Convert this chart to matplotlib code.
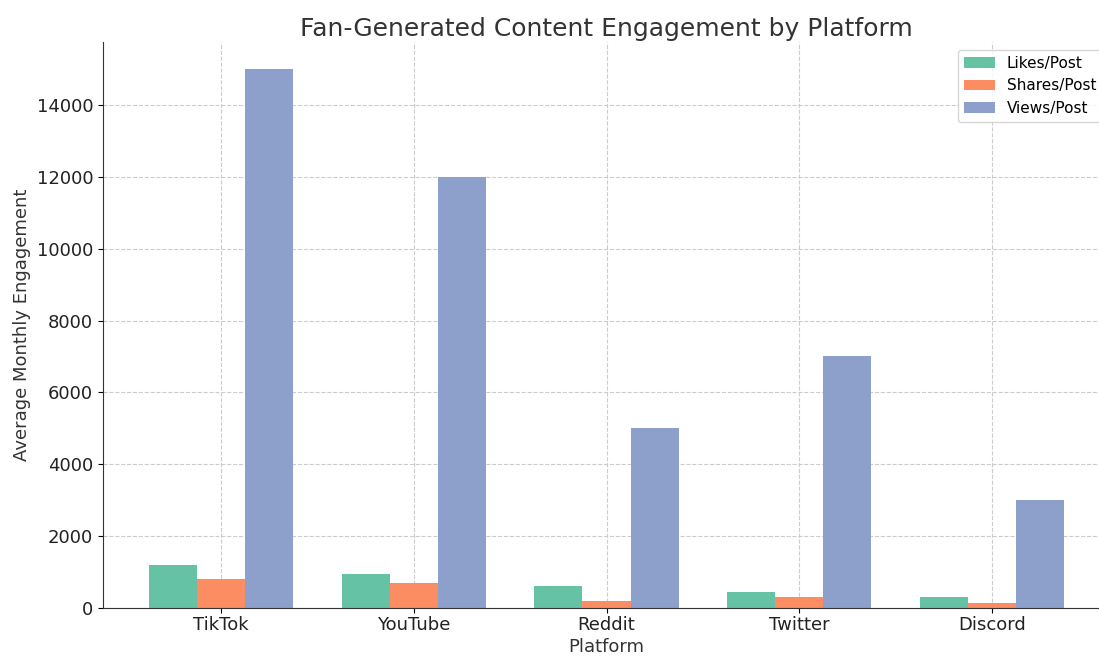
import numpy as np
import matplotlib.pyplot as plt

platforms = ["TikTok", "YouTube", "Reddit", "Twitter", "Discord"]
likes = [1200, 950, 600, 450, 300]
shares = [800, 700, 200, 300, 150]
views = [15000, 12000, 5000, 7000, 3000]

series_names = ["Likes/Post", "Shares/Post", "Views/Post"]
series_colors = ["#66c2a5", "#fc8d62", "#8da0cb"]

fig = plt.figure(figsize=(10.99, 6.56), dpi=100)
ax = fig.add_axes([103 / 1099, 48 / 656, 1007 / 1099, 566 / 656])

x = np.arange(len(platforms))
width = 0.25
for i, (vals, name, col) in enumerate(zip([likes, shares, views], series_names, series_colors)):
    ax.bar(x + (i - 1) * width, vals, width, label=name, color=col, zorder=2)

ax.set_xticks(x)
ax.set_xticklabels(platforms, fontsize=13, color="#222222")
ax.tick_params(axis="y", labelsize=13, labelcolor="#222222")
ax.tick_params(axis="x", pad=2)
ax.set_xlabel("Platform", fontsize=13, color="#333333", labelpad=3)
ax.set_ylabel("Average Monthly Engagement", fontsize=13, color="#333333")
ax.set_title("Fan-Generated Content Engagement by Platform", fontsize=18, color="#333333", pad=4)

ax.grid(True, linestyle="--", color="#cccccc", linewidth=0.8, zorder=0)
ax.set_axisbelow(True)
for s in ["top", "right"]:
    ax.spines[s].set_visible(False)
for s in ["left", "bottom"]:
    ax.spines[s].set_color("#333333")

ax.legend(loc="upper right", fontsize=11)

fig.savefig("out.png", dpi=100)
